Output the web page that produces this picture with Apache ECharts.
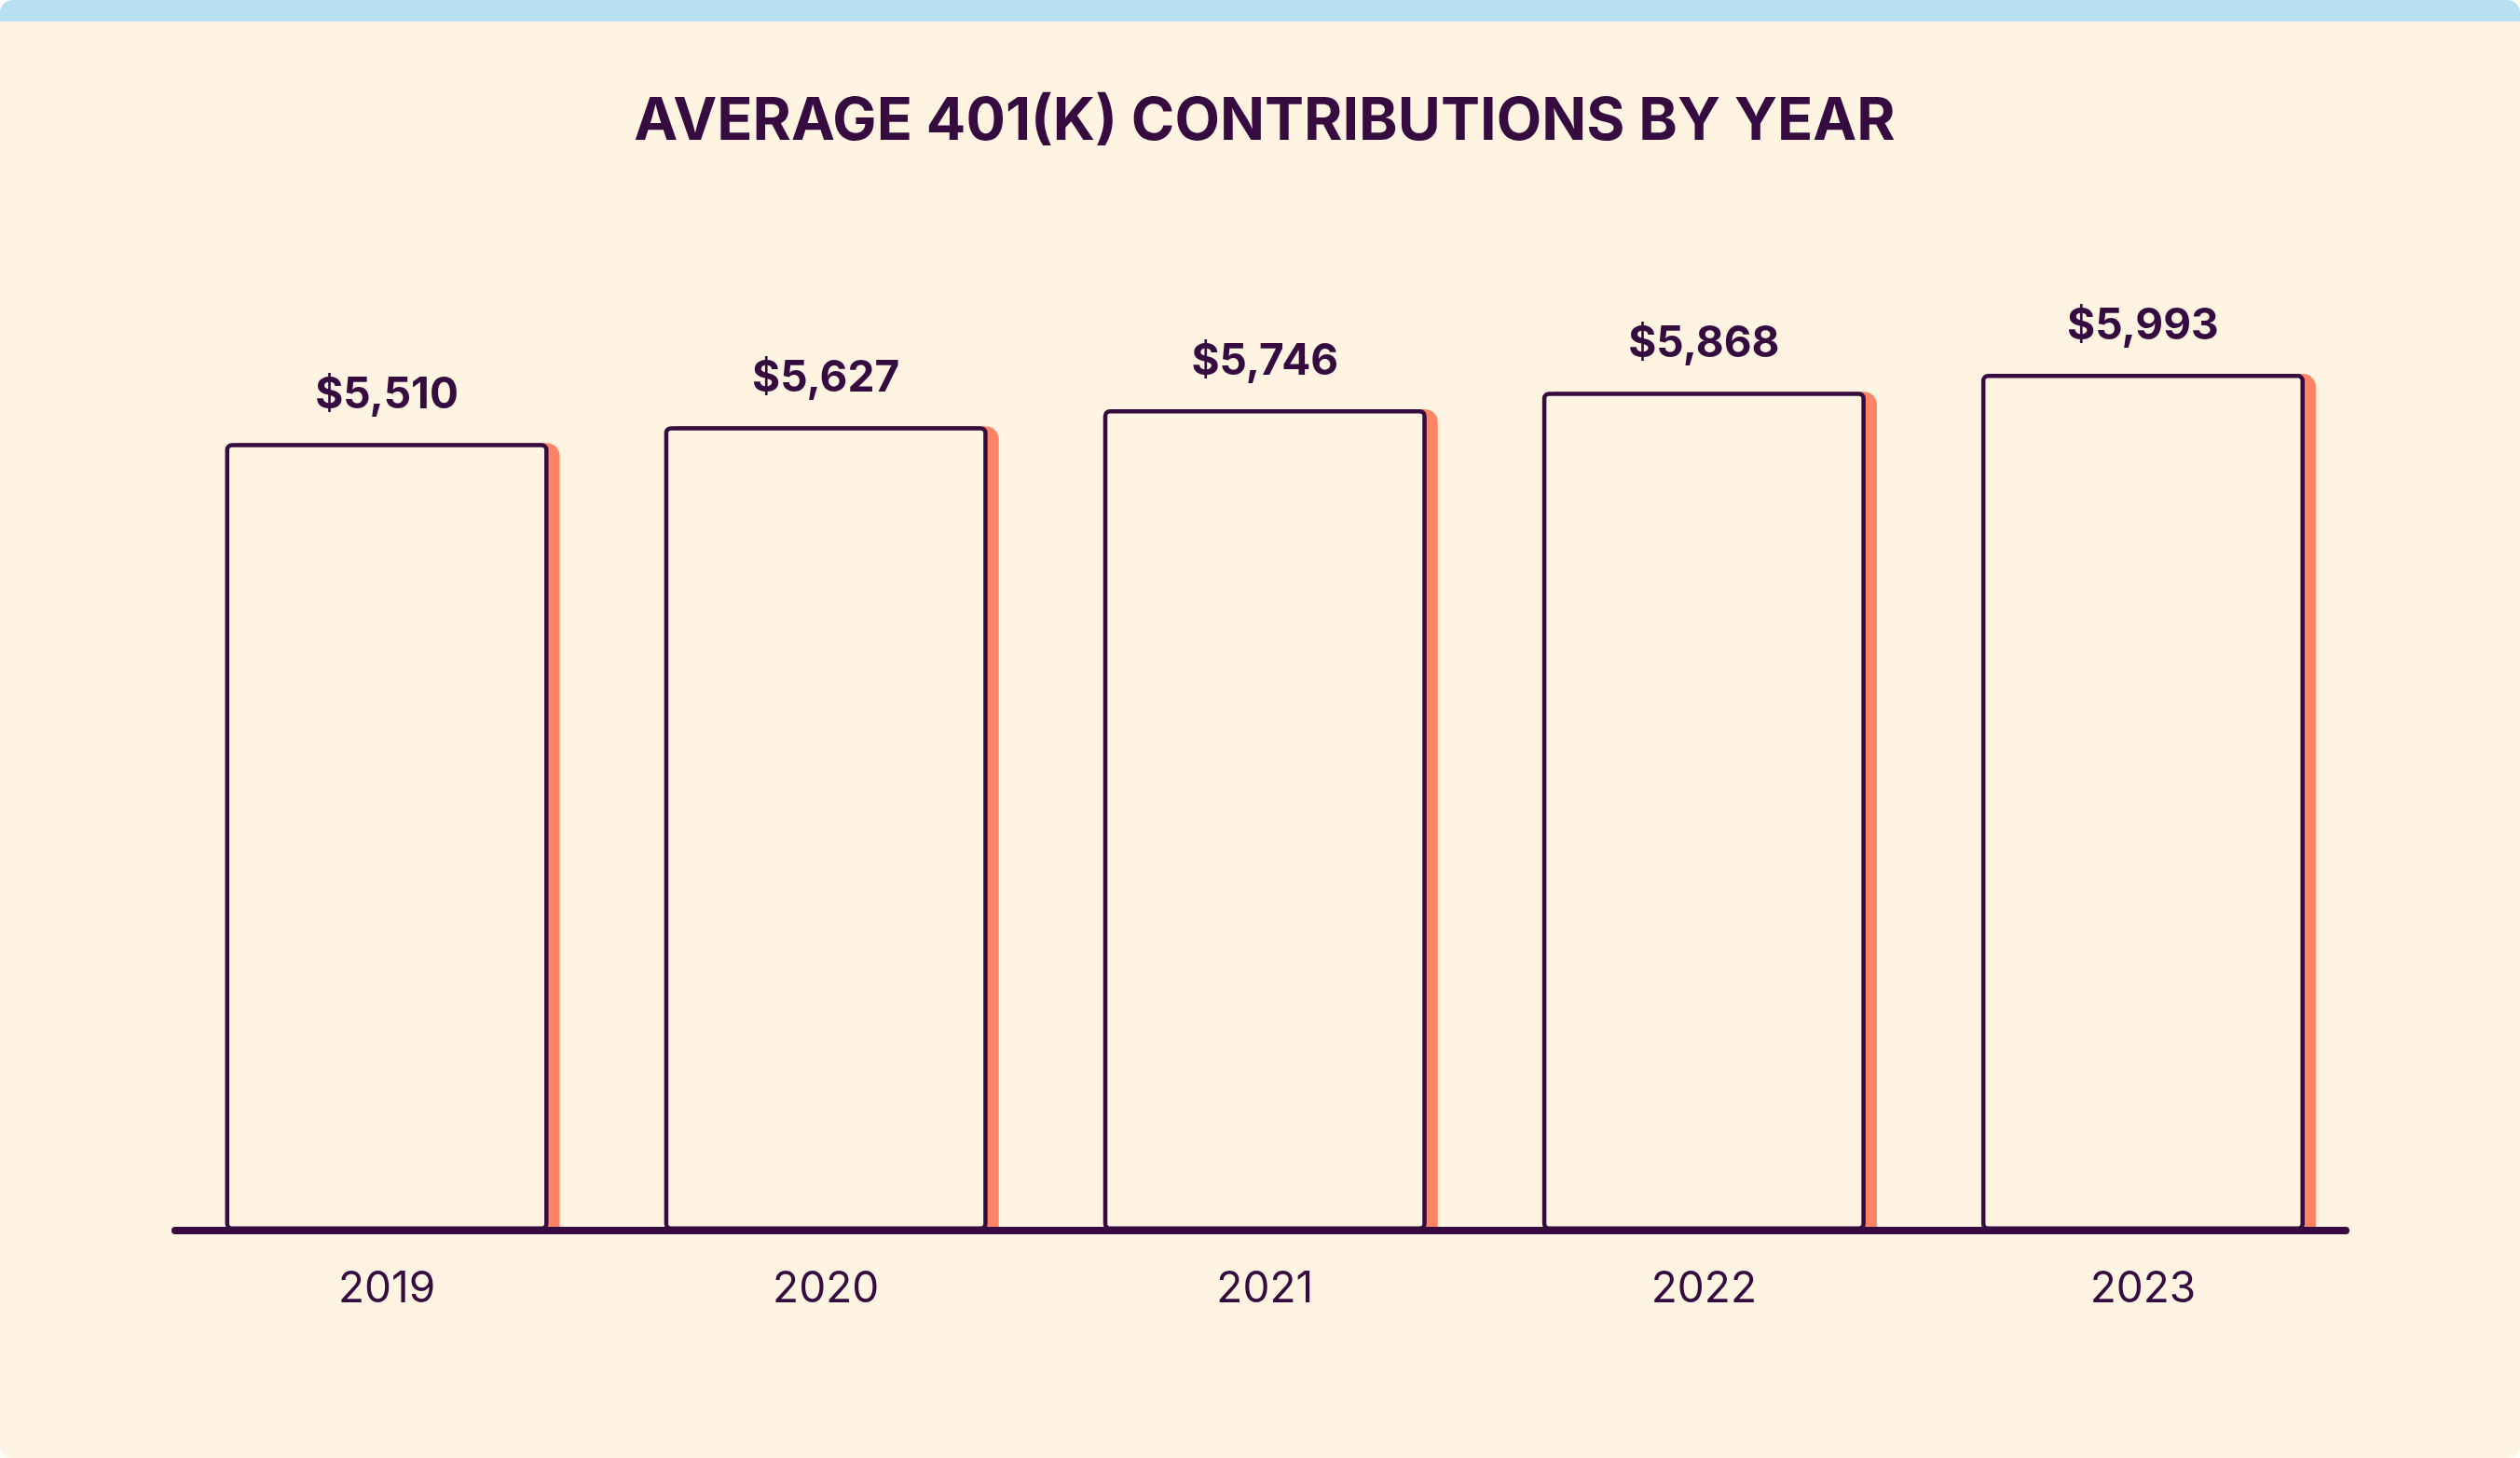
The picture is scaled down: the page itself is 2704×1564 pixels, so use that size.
<!DOCTYPE html>
<html><head><meta charset="utf-8">
<script src="https://cdn.jsdelivr.net/npm/echarts@6/dist/echarts.min.js"></script>
<style>
html,body{margin:0;padding:0;background:#ffffff;}
#c{width:2704px;height:1564px;border-radius:14px;overflow:hidden;background:#FFF3E2;}
</style></head><body><div id="c"></div>
<script>
// ---- data ----
const years = ['2019', '2020', '2021', '2022', '2023'];
const contributions = [5510, 5627, 5746, 5868, 5993];
const titleText = 'AVERAGE 401(K) CONTRIBUTIONS BY YEAR';
const yMin = 0;
const yMax = 6000;

// ---- style ----
const CREAM = '#FFF3E2';
const PURPLE = '#360C40';
const ORANGE = '#FF8364';
const BLUE = '#B8DFF2';
const FONT = 'Inter, "Noto Sans", sans-serif';

const chart = echarts.init(document.getElementById('c'), null, { renderer: 'canvas' });

const fmt = v => '$' + v.toLocaleString('en-US');

const hiddenY = (gi) => ({
  type: 'value', gridIndex: gi, min: yMin, max: yMax, show: false
});

chart.setOption({
  backgroundColor: 'transparent',
  animation: false,
  title: {
    text: titleText,
    left: 1352,
    textAlign: 'center',
    top: 95,
    textStyle: { fontFamily: FONT, fontSize: 63, fontWeight: 700, color: PURPLE }
  },
  graphic: [{
    type: 'rect',
    shape: { x: 0, y: 0, width: 2704, height: 23 },
    style: { fill: BLUE },
    silent: true
  }],
  grid: [
    { left: 179.5, right: 169, top: 400, bottom: 244 },   // main bars
    { left: 191.5, right: 157, top: 400, bottom: 244 },   // offset shadow bars
    { left: 188, right: 187, top: 400, bottom: 244 }      // baseline
  ],
  xAxis: [
    {
      type: 'category', gridIndex: 0, data: years,
      axisLine: { show: false }, axisTick: { show: false },
      axisLabel: { margin: 40, fontFamily: FONT, fontSize: 46, fontWeight: 400, color: PURPLE }
    },
    { type: 'category', gridIndex: 1, data: years, show: false },
    {
      type: 'category', gridIndex: 2, data: years, z: 10,
      axisLine: { show: true, lineStyle: { color: PURPLE, width: 8 } },
      axisTick: { show: false }, axisLabel: { show: false }
    }
  ],
  yAxis: [hiddenY(0), hiddenY(1), hiddenY(2)],
  series: [
    {
      type: 'bar', xAxisIndex: 1, yAxisIndex: 1, data: contributions,
      barWidth: 347, z: 1, silent: true,
      itemStyle: { color: ORANGE, borderRadius: [0, 14, 0, 0] }
    },
    {
      type: 'bar', xAxisIndex: 0, yAxisIndex: 0, data: contributions,
      barWidth: 347, z: 3,
      itemStyle: { color: CREAM, borderColor: PURPLE, borderWidth: 4.5, borderRadius: 5 },
      label: {
        show: true, position: 'top', distance: 28,
        formatter: p => fmt(p.value),
        fontFamily: FONT, fontSize: 46, fontWeight: 700, color: PURPLE
      }
    }
  ]
});
</script></body></html>
